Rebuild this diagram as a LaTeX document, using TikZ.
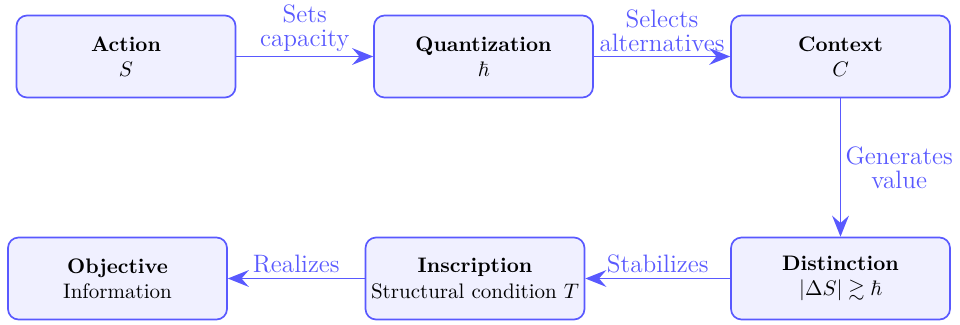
\documentclass[tikz,border=0pt]{standalone}
\usepackage{amsmath,amssymb}
\usetikzlibrary{arrows.meta}
\colorlet{linecol}{blue!65}
\colorlet{fillcol}{blue!6}
\newlength{\pxu}
\setlength{\pxu}{0.476pt}
\tikzset{
  box/.style={draw=linecol, fill=fillcol, thick, rounded corners=5pt,
    minimum width=219\pxu, minimum height=82\pxu, align=center, inner sep=2pt, font=\normalsize},
  conn/.style={draw=linecol, thick, -{Stealth[length=10pt,width=8pt,inset=3.5pt]}},
  lbl/.style={text=linecol, font=\large, align=center, inner sep=2pt}
}
\begin{document}
\begin{tikzpicture}[x=0.476pt,y=-0.476pt]
\useasboundingbox (0,0) rectangle (960,325);
\node[box] (act) at (126,56.5) {\textbf{Action}\\$S$};
\node[box] (qua) at (483.5,56.5) {\textbf{Quantization}\\$\hbar$};
\node[box] (ctx) at (840.5,56.5) {\textbf{Context}\\$C$};
\node[box] (obj) at (117.5,278.5) {\textbf{Objective}\\Information};
\node[box] (ins) at (475,278.5) {\textbf{Inscription}\\Structural condition $T$};
\node[box] (dis) at (840.5,278.5) {\textbf{Distinction}\\$|\Delta S| \gtrsim \hbar$};
\draw[conn] (act) -- node[lbl, above] {Sets\\[-2.5pt]capacity} (qua);
\draw[conn] (qua) -- node[lbl, above] {Selects\\[-2.5pt]alternatives} (ctx);
\draw[conn] (ctx) -- node[lbl, right] {Generates\\[-2.5pt]value} (dis);
\draw[conn] (dis) -- node[lbl, above] {Stabilizes} (ins);
\draw[conn] (ins) -- node[lbl, above] {Realizes} (obj);
\end{tikzpicture}
\end{document}
